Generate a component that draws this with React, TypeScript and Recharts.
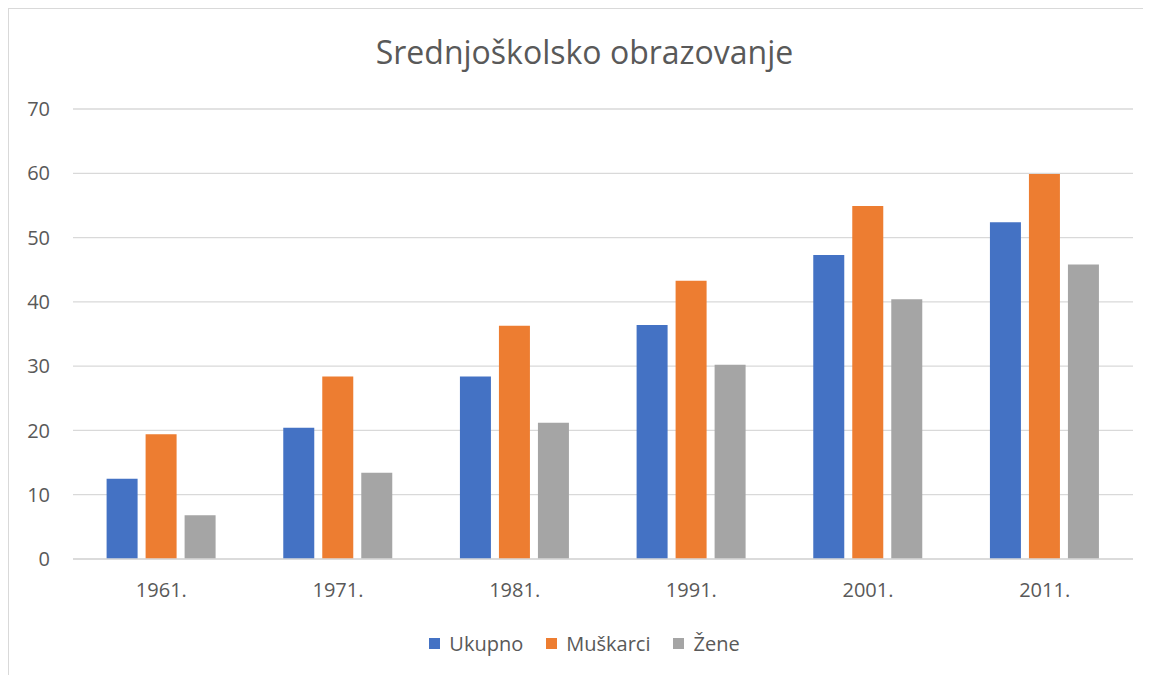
import { BarChart, Bar, XAxis, YAxis, CartesianGrid, Legend } from "recharts";

const categories = ["1961.", "1971.", "1981.", "1991.", "2001.", "2011."];
const ukupno = [12.5, 20.4, 28.4, 36.4, 47.3, 52.4];
const muskarci = [19.4, 28.4, 36.3, 43.3, 54.9, 59.9];
const zene = [6.8, 13.4, 21.2, 30.2, 40.4, 45.8];
const seriesNames = ["Ukupno", "Muškarci", "Žene"];
const yTicks = [0, 10, 20, 30, 40, 50, 60, 70];

const data = categories.map((godina, i) => ({
  godina,
  Ukupno: ukupno[i],
  Muškarci: muskarci[i],
  Žene: zene[i],
}));

const textColor = "#595959";
const gridColor = "#d9d9d9";
const font = "'Open Sans', sans-serif";

const renderLegend = (props: any) => {
  const items = [...(props.payload || [])].sort(
    (a: any, b: any) => seriesNames.indexOf(a.value) - seriesNames.indexOf(b.value)
  );
  return (
    <div style={{ display: "flex", justifyContent: "center", alignItems: "center", fontFamily: font }}>
      {items.map((entry: any, i: number) => (
        <div
          key={entry.value}
          style={{ display: "flex", alignItems: "center", marginRight: i < items.length - 1 ? 23 : 0 }}
        >
          <span style={{ width: 11, height: 11, background: entry.color, display: "inline-block", marginRight: 9 }} />
          <span style={{ fontSize: 20, color: textColor }}>{entry.value}</span>
        </div>
      ))}
    </div>
  );
};

const App = () => {
  return (
    <div
      style={{
        position: "relative",
        width: 1142,
        height: 666,
        borderLeft: `1px solid ${gridColor}`,
        borderTop: `1px solid ${gridColor}`,
        background: "#fff",
      }}
    >
      <div
        style={{
          position: "absolute",
          left: 0,
          top: 21,
          width: 1151,
          textAlign: "center",
          fontFamily: font,
          fontSize: 32,
          color: textColor,
          zIndex: 1,
        }}
      >
        Srednjoškolsko obrazovanje
      </div>
      <BarChart
        width={1142}
        height={666}
        data={data}
        margin={{ top: 100, right: 18, bottom: 0, left: 0 }}
        barCategoryGap={33.6}
        barGap={8}
      >
        <CartesianGrid vertical={false} stroke={gridColor} strokeWidth={1.3} />
        <XAxis
          dataKey="godina"
          axisLine={{ stroke: gridColor, strokeWidth: 1.3 }}
          tickLine={false}
          tickSize={0}
          tickMargin={24}
          height={90}
          tick={{ fill: textColor, fontSize: 20, fontFamily: font }}
        />
        <YAxis
          domain={[0, 70]}
          ticks={yTicks}
          width={64}
          axisLine={false}
          tickLine={false}
          tickSize={0}
          tickMargin={23}
          tick={{ fill: textColor, fontSize: 20, fontFamily: font }}
        />
        <Legend
          content={renderLegend}
          wrapperStyle={{ position: "absolute", top: 621, left: 0, width: 1151, height: 26 }}
        />
        <Bar dataKey="Ukupno" fill="#4472C4" isAnimationActive={false} />
        <Bar dataKey="Muškarci" fill="#ED7D31" isAnimationActive={false} />
        <Bar dataKey="Žene" fill="#A5A5A5" isAnimationActive={false} />
      </BarChart>
    </div>
  );
};

export default App;
